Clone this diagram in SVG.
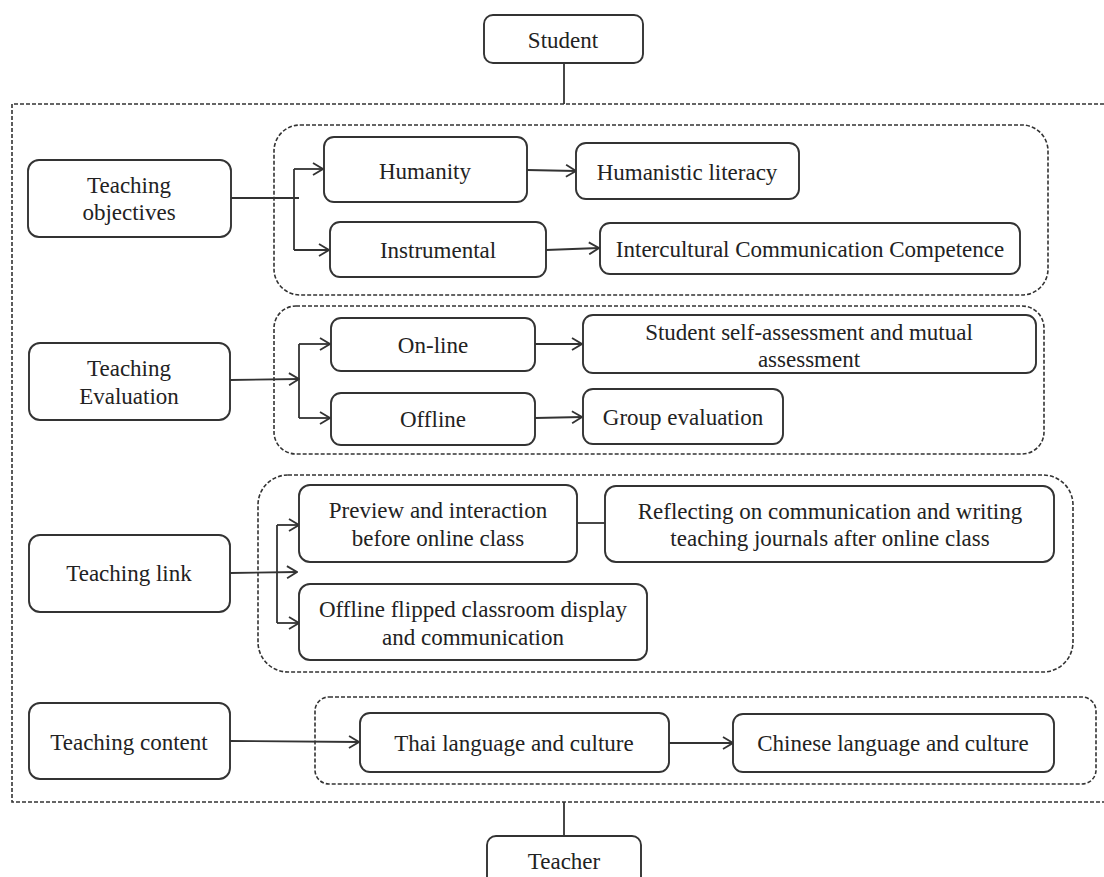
<svg xmlns="http://www.w3.org/2000/svg" width="1104" height="877" viewBox="0 0 1104 877">
<style>
.box{fill:#fff;stroke:#333;stroke-width:1.9}
.grp{fill:none;stroke:#333;stroke-width:1.6;stroke-dasharray:4 2}
.ln{fill:none;stroke:#333;stroke-width:1.8}
.arr{fill:none;stroke:#333;stroke-width:1.8;marker-end:url(#ah)}
text{font-family:"Liberation Serif","Times New Roman",serif;font-size:23px;fill:#222;text-anchor:middle;dominant-baseline:central}
</style>
<defs>
<marker id="ah" viewBox="0 0 12 14" refX="11" refY="7" markerWidth="12" markerHeight="14" markerUnits="userSpaceOnUse" orient="auto">
<path d="M1,1 L11,7 L1,13" fill="none" stroke="#333" stroke-width="1.8"/>
</marker>
</defs>
<rect width="1104" height="877" fill="#fff"/>
<g id="groups">
<path class="grp" d="M1104,104 H12 V802 H1104"/>
<rect class="grp" x="274" y="125" width="774" height="170" rx="26"/>
<rect class="grp" x="274" y="306" width="770" height="148" rx="22"/>
<rect class="grp" x="258" y="475" width="815" height="197" rx="30"/>
<rect class="grp" x="315" y="697" width="781" height="87" rx="14"/>
</g>
<g id="connectors">
<line class="ln" x1="564" y1="63" x2="564" y2="104"/>
<line class="ln" x1="564" y1="802" x2="564" y2="836"/>
<line class="ln" x1="231" y1="198" x2="299" y2="198"/>
<line class="ln" x1="294" y1="169" x2="294" y2="250"/>
<line class="arr" x1="294" y1="169" x2="323" y2="169"/>
<line class="arr" x1="294" y1="250" x2="329" y2="250"/>
<line class="arr" x1="527" y1="170" x2="576" y2="171"/>
<line class="arr" x1="546" y1="250" x2="599" y2="248"/>
<line class="arr" x1="230" y1="380" x2="299" y2="379"/>
<line class="ln" x1="299" y1="344" x2="299" y2="418"/>
<line class="arr" x1="299" y1="344" x2="330" y2="344"/>
<line class="arr" x1="299" y1="418" x2="330" y2="418"/>
<line class="arr" x1="535" y1="344" x2="582" y2="344"/>
<line class="arr" x1="535" y1="418" x2="582" y2="417"/>
<line class="arr" x1="230" y1="573" x2="297" y2="572"/>
<line class="ln" x1="277" y1="525" x2="277" y2="623"/>
<line class="arr" x1="277" y1="525" x2="299" y2="525"/>
<line class="arr" x1="277" y1="623" x2="299" y2="623"/>
<line class="ln" x1="577" y1="523" x2="605" y2="523"/>
<line class="arr" x1="230" y1="741" x2="359" y2="742"/>
<line class="arr" x1="669" y1="743" x2="733" y2="743"/>
</g>
<g id="student"><rect class="box" x="484" y="15" width="159" height="48" rx="9"/><text x="563" y="40">Student</text></g>
<g id="teacher"><rect class="box" x="487" y="836" width="154" height="50" rx="9"/><text x="564" y="861">Teacher</text></g>
<g id="teaching-objectives"><rect class="box" x="28" y="160" width="203" height="77" rx="11"/><text x="129" y="185">Teaching</text><text x="129" y="212">objectives</text></g>
<g id="humanity"><rect class="box" x="324" y="137" width="203" height="65" rx="10"/><text x="425" y="171">Humanity</text></g>
<g id="instrumental"><rect class="box" x="330" y="222" width="216" height="55" rx="10"/><text x="438" y="250">Instrumental</text></g>
<g id="humanistic-literacy"><rect class="box" x="576" y="143" width="223" height="56" rx="10"/><text x="687" y="172">Humanistic literacy</text></g>
<g id="icc"><rect class="box" x="600" y="223" width="420" height="51" rx="10"/><text x="810" y="249">Intercultural Communication Competence</text></g>
<g id="teaching-evaluation"><rect class="box" x="29" y="343" width="201" height="77" rx="11"/><text x="129" y="368">Teaching</text><text x="129" y="396">Evaluation</text></g>
<g id="on-line"><rect class="box" x="331" y="318" width="204" height="53" rx="10"/><text x="433" y="345">On-line</text></g>
<g id="offline"><rect class="box" x="331" y="393" width="204" height="52" rx="10"/><text x="433" y="419">Offline</text></g>
<g id="self-assessment"><rect class="box" x="583" y="315" width="453" height="58" rx="10"/><text x="809" y="332">Student self-assessment and mutual</text><text x="809" y="359">assessment</text></g>
<g id="group-evaluation"><rect class="box" x="583" y="389" width="200" height="55" rx="10"/><text x="683" y="417">Group evaluation</text></g>
<g id="teaching-link"><rect class="box" x="29" y="535" width="201" height="77" rx="11"/><text x="129" y="573">Teaching link</text></g>
<g id="preview"><rect class="box" x="299" y="485" width="278" height="77" rx="11"/><text x="438" y="510">Preview and interaction</text><text x="438" y="538">before online class</text></g>
<g id="reflecting"><rect class="box" x="605" y="486" width="449" height="76" rx="11"/><text x="830" y="511">Reflecting on communication and writing</text><text x="830" y="538">teaching journals after online class</text></g>
<g id="offline-flipped"><rect class="box" x="299" y="584" width="348" height="76" rx="11"/><text x="473" y="609">Offline flipped classroom display</text><text x="473" y="637">and communication</text></g>
<g id="teaching-content"><rect class="box" x="29" y="703" width="201" height="76" rx="11"/><text x="129" y="742">Teaching content</text></g>
<g id="thai"><rect class="box" x="360" y="713" width="309" height="59" rx="10"/><text x="514" y="743">Thai language and culture</text></g>
<g id="chinese"><rect class="box" x="733" y="714" width="321" height="58" rx="10"/><text x="893" y="743">Chinese language and culture</text></g>
</svg>
